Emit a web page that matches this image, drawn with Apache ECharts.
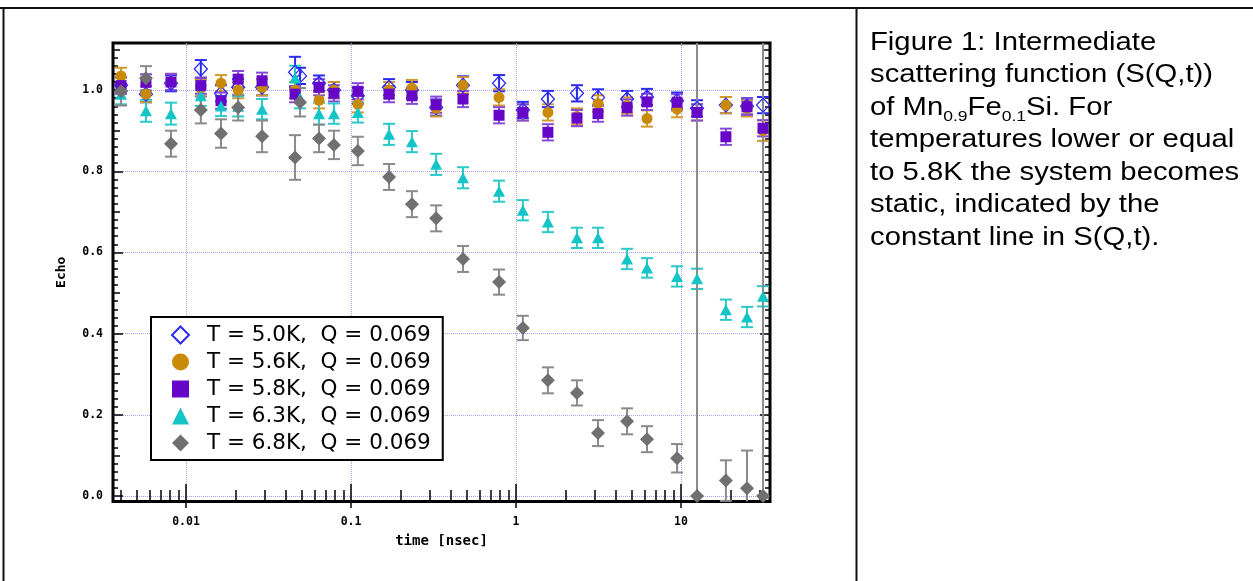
<!DOCTYPE html>
<html><head><meta charset="utf-8">
<script src="https://cdn.jsdelivr.net/npm/echarts@6/dist/echarts.min.js"></script>
<style>html,body{margin:0;padding:0;background:#fff}#c{width:1253px;height:581px}</style>
</head><body><div id="c"></div>
<script>
// ---- data ----
const times = [0.00404, 0.00572, 0.00811, 0.0123, 0.0163, 0.0207, 0.0289, 0.0458, 0.0491, 0.0640,
  0.0788, 0.110, 0.170, 0.234, 0.328, 0.477, 0.789, 1.10, 1.56, 2.34,
  3.14, 4.71, 6.22, 9.46, 12.5, 18.7, 25.1, 31.4];

const echo50 = [1.012, 0.990, 1.017, 1.052, 0.992, 1.007, 1.007, 1.044, 1.035, 1.017,
  1.000, 0.986, 1.007, 1.000, 0.957, 1.012, 1.017, 0.951, 0.978, 0.992,
  0.982, 0.978, 0.983, 0.974, 0.955, 0.963, 0.960, 0.963];
const err50 = [0.020, 0.020, 0.020, 0.022, 0.020, 0.020, 0.020, 0.038, 0.020, 0.019,
  0.020, 0.020, 0.020, 0.020, 0.020, 0.022, 0.020, 0.020, 0.020, 0.020,
  0.020, 0.020, 0.020, 0.020, 0.020, 0.020, 0.020, 0.020];

const echo56 = [1.035, 0.990, 1.020, 1.005, 1.017, 1.000, 1.007, 1.000, null, 0.975,
  1.000, 0.965, 1.000, 1.005, 0.955, 1.012, 0.982, 0.945, 0.945, 0.935,
  0.967, 0.962, 0.930, 0.953, 0.945, 0.963, 0.955, 0.900];
const err56 = [0.020, 0.020, 0.020, 0.020, 0.020, 0.020, 0.020, 0.020, null, 0.020,
  0.020, 0.020, 0.020, 0.020, 0.020, 0.020, 0.020, 0.020, 0.020, 0.020,
  0.020, 0.020, 0.020, 0.020, 0.020, 0.020, 0.020, 0.025];

const echo58 = [1.011, 1.019, 1.020, 1.011, 0.974, 1.027, 1.023, 0.990, null, 1.007,
  0.992, 0.997, 0.990, 0.986, 0.964, 0.978, 0.938, 0.945, 0.896, 0.931,
  0.942, 0.957, 0.971, 0.970, 0.945, 0.885, 0.959, 0.906];
const err58 = [0.020, 0.020, 0.020, 0.020, 0.020, 0.020, 0.020, 0.020, null, 0.020,
  0.020, 0.020, 0.020, 0.020, 0.020, 0.020, 0.020, 0.020, 0.020, 0.020,
  0.020, 0.020, 0.020, 0.020, 0.020, 0.020, 0.020, 0.020];

const echo63 = [0.990, 0.949, 0.942, 0.986, 0.961, 0.960, 0.953, 1.030, 0.980, 0.942,
  0.942, 0.945, 0.891, 0.873, 0.817, 0.784, 0.751, 0.704, 0.675, 0.636,
  0.636, 0.584, 0.562, 0.541, 0.535, 0.459, 0.441, 0.492];
const err63 = [0.025, 0.027, 0.027, 0.025, 0.025, 0.025, 0.025, 0.030, 0.025, 0.027,
  0.025, 0.025, 0.026, 0.026, 0.026, 0.026, 0.026, 0.025, 0.025, 0.025,
  0.025, 0.025, 0.024, 0.025, 0.025, 0.025, 0.025, 0.025];

const echo68 = [0.997, 1.029, 0.868, 0.951, 0.893, 0.957, 0.886, 0.834, 0.970, 0.881,
  0.865, 0.850, 0.786, 0.719, 0.684, 0.584, 0.527, 0.414, 0.285, 0.254,
  0.155, 0.184, 0.140, 0.093, 0.000, 0.038, 0.019, 0.000];
const err68 = [0.035, 0.030, 0.032, 0.033, 0.035, 0.032, 0.039, 0.055, 0.035, 0.034,
  0.035, 0.035, 0.032, 0.032, 0.032, 0.032, 0.031, 0.030, 0.032, 0.031,
  0.032, 0.032, 0.032, 0.035, 1.300, 0.050, 0.093, 1.300];

const seriesNames = ['T = 5.0K,  Q = 0.069', 'T = 5.6K,  Q = 0.069', 'T = 5.8K,  Q = 0.069',
  'T = 6.3K,  Q = 0.069', 'T = 6.8K,  Q = 0.069'];

// tick values
const xMajorTicks = [0.01, 0.1, 1, 10];
const xMinorTicks = [0.004, 0.005, 0.006, 0.007, 0.008, 0.009,
  0.02, 0.03, 0.04, 0.05, 0.06, 0.07, 0.08, 0.09,
  0.2, 0.3, 0.4, 0.5, 0.6, 0.7, 0.8, 0.9,
  2, 3, 4, 5, 6, 7, 8, 9, 20, 30];
const yMajorTicks = [0, 0.2, 0.4, 0.6, 0.8, 1.0];
const yMidTicks = [0.1, 0.3, 0.5, 0.7, 0.9, 1.1];
const yMinorTicks = [0.02, 0.04, 0.06, 0.08, 0.12, 0.14, 0.16, 0.18, 0.22, 0.24, 0.26, 0.28,
  0.32, 0.34, 0.36, 0.38, 0.42, 0.44, 0.46, 0.48, 0.52, 0.54, 0.56, 0.58,
  0.62, 0.64, 0.66, 0.68, 0.72, 0.74, 0.76, 0.78, 0.82, 0.84, 0.86, 0.88,
  0.92, 0.94, 0.96, 0.98, 1.02, 1.04, 1.06, 1.08];

const X_MIN = 0.003611, X_MAX = 34.6, Y_MIN = -0.0135, Y_MAX = 1.116;

const captionText = 'Figure 1: Intermediate\nscattering function (S(Q,t))\nof Mn{sub|0.9}Fe{sub|0.1}Si. For\ntemperatures lower or equal\nto 5.8K the system becomes\nstatic, indicated by the\nconstant line in S(Q,t).';

// ---- styles ----
const MONO = '"DejaVu Sans Mono", monospace';
const styles = [
  {symbol: 'diamond', size: [13, 14], fill: 'rgba(255,255,255,0)', border: '#2a2af5', bw: 1.3, err: '#2a2af5'},
  {symbol: 'circle', size: 11, fill: '#c98a0a', border: '#c98a0a', bw: 0, err: '#d39a2a'},
  {symbol: 'rect', size: 11, fill: '#6606c8', border: '#6606c8', bw: 0, err: '#8848d8'},
  {symbol: 'triangle', size: [12, 11], fill: '#14c4c6', border: '#14c4c6', bw: 0, err: '#2cc9c9'},
  {symbol: 'diamond', size: [14, 14], fill: '#707070', border: '#707070', bw: 0, err: '#8a8a8a'}
];
const allEcho = [echo50, echo56, echo58, echo63, echo68];
const allErr = [err50, err56, err58, err63, err68];

function errRenderer(color) {
  return function (params, api) {
    const x = api.value(0), y = api.value(1), e = api.value(2);
    const cs = params.coordSys;
    const p = api.coord([x, y]);
    const top = api.coord([x, y + e])[1];
    const bot = api.coord([x, y - e])[1];
    const yTop = Math.max(top, cs.y), yBot = Math.min(bot, cs.y + cs.height);
    const hw = 6;
    const st = {stroke: color, lineWidth: 2};
    const ch = [{type: 'line', shape: {x1: p[0], y1: yTop, x2: p[0], y2: yBot}, style: st}];
    if (top >= cs.y) ch.push({type: 'line', shape: {x1: p[0] - hw, y1: top, x2: p[0] + hw, y2: top}, style: st});
    if (bot <= cs.y + cs.height) ch.push({type: 'line', shape: {x1: p[0] - hw, y1: bot, x2: p[0] + hw, y2: bot}, style: st});
    return {type: 'group', children: ch};
  };
}

const series = [];
allEcho.forEach(function (vals, k) {
  const errs = allErr[k];
  const st = styles[k];
  const errData = [], ptData = [];
  times.forEach(function (t, i) {
    if (vals[i] == null) return;
    errData.push([t, vals[i], errs[i]]);
    ptData.push([t, vals[i]]);
  });
  series.push({
    type: 'custom', name: 'err' + k, xAxisIndex: 0, yAxisIndex: 0,
    renderItem: errRenderer(st.err), data: errData,
    encode: {x: 0, y: 1}, silent: true, z: 2
  });
  series.push({
    type: 'scatter', name: seriesNames[k], xAxisIndex: 0, yAxisIndex: 0,
    data: ptData, symbol: st.symbol, symbolSize: st.size,
    itemStyle: {color: st.fill, borderColor: st.border, borderWidth: st.bw, opacity: 1},
    z: 2, silent: true
  });
});

function xAx(pos, ticks, len, extra) {
  return Object.assign({
    type: 'log', logBase: 10, gridIndex: 0, position: pos, min: X_MIN, max: X_MAX,
    axisLine: {show: false},
    axisTick: {show: true, inside: true, length: len, customValues: ticks, lineStyle: {color: '#000', width: 1.5}},
    axisLabel: {show: false}, splitLine: {show: false}
  }, extra || {});
}
function yAx(pos, ticks, len, extra) {
  return Object.assign({
    type: 'value', gridIndex: 0, position: pos, min: Y_MIN, max: Y_MAX,
    axisLine: {show: false},
    axisTick: {show: true, inside: true, length: len, customValues: ticks, lineStyle: {color: '#000', width: 1.5}},
    axisLabel: {show: false}, splitLine: {show: false}
  }, extra || {});
}

const option = {
  animation: false,
  backgroundColor: '#fff',
  grid: {left: 113, right: 483, top: 43, bottom: 79.5, show: true, borderColor: '#000', borderWidth: 3, backgroundColor: 'rgba(0,0,0,0)'},
  xAxis: [
    xAx('bottom', xMajorTicks, 12, {
      name: 'time [nsec]', nameLocation: 'middle', nameGap: 33,
      nameTextStyle: {fontFamily: MONO, fontWeight: 'bold', fontSize: 14, color: '#000'},
      axisLabel: {show: true, customValues: xMajorTicks, margin: 15,
        formatter: function (v) { return String(v); },
        fontFamily: MONO, fontWeight: 'bold', fontSize: 11.5, color: '#000'},
      splitLine: {show: true, lineStyle: {color: '#a0a0f2', type: 'dotted', width: 1}}
    }),
    xAx('bottom', xMinorTicks, 6),
    xAx('top', xMajorTicks, 12),
    xAx('top', xMinorTicks, 6)
  ],
  yAxis: [
    yAx('left', yMajorTicks, 10, {
      name: 'Echo', nameLocation: 'middle', nameGap: 45, nameRotate: 90,
      nameTextStyle: {fontFamily: MONO, fontWeight: 'bold', fontSize: 13, color: '#000'},
      axisLabel: {show: true, customValues: yMajorTicks, margin: 10,
        formatter: function (v) { return Number(v).toFixed(1); },
        fontFamily: MONO, fontWeight: 'bold', fontSize: 11.5, color: '#000'},
      splitLine: {show: true, lineStyle: {color: '#a0a0f2', type: 'dotted', width: 1}}
    }),
    yAx('left', yMidTicks, 7),
    yAx('left', yMinorTicks, 5),
    yAx('right', yMajorTicks, 10),
    yAx('right', yMidTicks, 7),
    yAx('right', yMinorTicks, 5)
  ],
  legend: {
    data: seriesNames, orient: 'vertical', left: 151, top: 317,
    backgroundColor: '#fff', borderColor: '#000', borderWidth: 2,
    padding: [7, 12, 6, 20], itemGap: 5, itemWidth: 17, itemHeight: 17,
    textStyle: {fontFamily: '"DejaVu Sans", sans-serif', fontSize: 21.5, color: '#000', padding: [0, 0, 0, 13]},
    selectedMode: false
  },
  graphic: [
    {type: 'line', shape: {x1: 0, y1: 8, x2: 1253, y2: 8}, style: {stroke: '#111', lineWidth: 2}, silent: true},
    {type: 'line', shape: {x1: 3.5, y1: 8, x2: 3.5, y2: 581}, style: {stroke: '#111', lineWidth: 2}, silent: true},
    {type: 'line', shape: {x1: 856.5, y1: 8, x2: 856.5, y2: 581}, style: {stroke: '#111', lineWidth: 2}, silent: true},
    {type: 'text', x: 870, y: 26.5, scaleX: 1.17, silent: true,
      style: {text: captionText, x: 0, y: 0, align: 'left', verticalAlign: 'top',
        fontFamily: '"Liberation Sans", Arial, sans-serif', fontSize: 25, lineHeight: 32.5, fill: '#000',
        rich: {sub: {fontFamily: '"Liberation Sans", Arial, sans-serif', fontSize: 15, verticalAlign: 'bottom', fill: '#000'}}}}
  ],
  series: series
};

const chart = echarts.init(document.getElementById('c'), null, {renderer: 'canvas'});
chart.setOption(option);
</script>
</body></html>
